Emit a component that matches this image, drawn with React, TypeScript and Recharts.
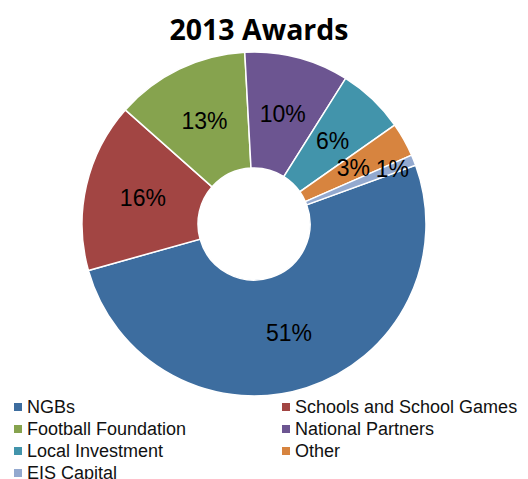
import { PieChart, Pie, Cell, Legend } from 'recharts';

// 2013 Awards share by recipient group
const categories = ['NGBs', 'Schools and School Games', 'Football Foundation', 'National Partners', 'Local Investment', 'Other', 'EIS Capital'];
const shares = [51.2, 15.9, 12.6, 9.8, 6.3, 3.2, 1.0];
const colors = ['#3D6D9F', '#A24543', '#86A34E', '#6C5591', '#4294AB', '#D7843F', '#93A9CF'];

const data = categories.map((name, i) => ({ name, value: shares[i] }));

const RAD = Math.PI / 180;

const renderLabel = (props: any) => {
  const { cx, cy, midAngle, innerRadius, outerRadius, percent } = props;
  // tiny slices get their label pushed outward, like the original
  const r = (innerRadius + outerRadius) / 2 + (percent < 0.02 ? 35 : 0);
  const x = cx + r * Math.cos(-midAngle * RAD);
  const y = cy + r * Math.sin(-midAngle * RAD);
  return (
    <text x={x} y={y} textAnchor="middle" dominantBaseline="central" fill="#000" fontSize={23} fontFamily="'Liberation Sans', Arial, sans-serif">
      {`${Math.round(percent * 100)}%`}
    </text>
  );
};

const renderLegend = () => (
  <div style={{ display: 'grid', gridTemplateColumns: '268px 240px', fontFamily: "'Liberation Sans', Arial, sans-serif", fontSize: 18, color: '#111' }}>
    {categories.map((name, i) => (
      <div key={name} style={{ display: 'flex', alignItems: 'center', height: 22, whiteSpace: 'nowrap' }}>
        <span style={{ width: 8, height: 8, background: colors[i], marginRight: 5, display: 'inline-block' }} />
        <span>{name}</span>
      </div>
    ))}
  </div>
);

export default function App() {
  return (
    <div style={{ position: 'absolute', left: 0, top: 0, width: 528, height: 479, background: '#fff', overflow: 'hidden' }}>
      <div style={{ position: 'absolute', left: 0, width: 518, top: 10, textAlign: 'center', fontFamily: "'Open Sans', Lato, sans-serif", fontWeight: 700, fontSize: 28.5, lineHeight: '38px', color: '#000' }}>
        2013 Awards
      </div>
      <PieChart width={528} height={479}>
        <Pie
          data={data}
          dataKey="value"
          nameKey="name"
          cx={249}
          cy={219}
          innerRadius={56}
          outerRadius={172}
          startAngle={20}
          endAngle={-340}
          stroke="#fff"
          strokeWidth={1.5}
          label={renderLabel}
          labelLine={false}
          isAnimationActive={false}
        >
          {data.map((d, i) => (
            <Cell key={d.name} fill={colors[i]} />
          ))}
        </Pie>
        <Legend content={renderLegend} wrapperStyle={{ position: 'absolute', left: 14, top: 396, width: 514 }} />
      </PieChart>
    </div>
  );
}
